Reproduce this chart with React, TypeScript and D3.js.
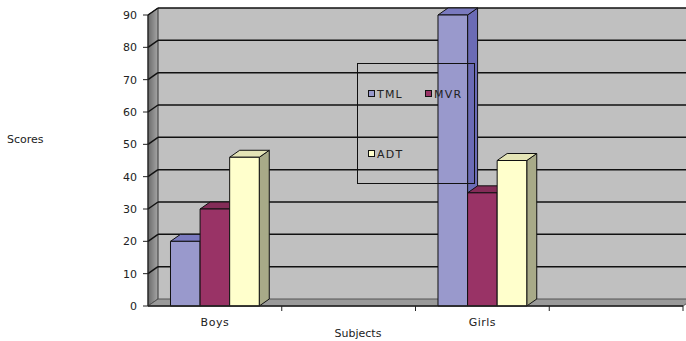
import React from "react";
import * as d3 from "d3";

const categories = ["Boys", "", "Girls", ""];
const seriesNames = ["TML", "MVR", "ADT"];
const TML = [20, null, 90, null];
const MVR = [30, null, 35, null];
const ADT = [46, null, 45, null];
const yTicks = [0, 10, 20, 30, 40, 50, 60, 70, 80, 90];

const seriesValues = [TML, MVR, ADT];
const colors = [
  { front: "#9999CC", side: "#6B6BB5", top: "#7A7ABF" },
  { front: "#993366", side: "#7A2952", top: "#842C58" },
  { front: "#FFFFCC", side: "#A8AA88", top: "#E4E4B6" },
];

const W = 686;
const H = 341;
const DX = 10;
const DY = -7;
const FONT = "DejaVu Sans, sans-serif";

export default function App() {
  const y = d3.scaleLinear().domain([0, 90]).range([306, 15]);
  const x = d3.scaleBand<string>().domain(categories.map((c, i) => i + "")).range([148, 683]).padding(0);
  const inner = d3.scaleBand<string>().domain(seriesNames).range([0, x.bandwidth()]).paddingInner(0).paddingOuter(0.76);
  const x0 = 148;
  const x1 = 683;
  const y0 = y(0);
  const yTop = y(90);

  const poly = (pts: number[][]) => pts.map((p) => p.join(",")).join(" ");

  return (
    <svg width={W} height={H} style={{ position: "absolute", left: 0, top: 0, display: "block" }}>
      <defs>
        <linearGradient id="lw" x1="0" x2="1" y1="0" y2="0">
          <stop offset="0" stopColor="#6a6a6a" />
          <stop offset="1" stopColor="#a6a6a6" />
        </linearGradient>
      </defs>
      <rect x={0} y={0} width={W} height={H} fill="#fff" />
      {/* back wall */}
      <rect x={x0 + DX} y={yTop + DY} width={W - x0 - DX + 20} height={y0 - yTop} fill="#C0C0C0" />
      {/* left wall */}
      <polygon
        points={poly([
          [x0, y0],
          [x0, yTop],
          [x0 + DX, yTop + DY],
          [x0 + DX, y0 + DY],
        ])}
        fill="url(#lw)"
        stroke="#333"
        strokeWidth={1}
      />
      {/* floor */}
      <polygon
        points={poly([
          [x0, y0],
          [x1, y0],
          [x1 + DX, y0 + DY],
          [x0 + DX, y0 + DY],
        ])}
        fill="#9a9a9a"
        stroke="#555"
        strokeWidth={1}
      />
      {/* gridlines */}
      {yTicks.map((t) => (
        <g key={"g" + t}>
          {t > 0 && (
            <>
              <line x1={x0} y1={y(t)} x2={x0 + DX} y2={y(t) + DY} stroke="#111" strokeWidth={1.5} />
              <line x1={x0 + DX} y1={y(t) + DY} x2={W + 5} y2={y(t) + DY} stroke="#111" strokeWidth={1.5} />
            </>
          )}
        </g>
      ))}
      {/* bars */}
      {categories.map((c, ci) =>
        seriesNames.map((s, si) => {
          const v = seriesValues[si][ci];
          if (v == null) return null;
          const bx = (x(ci + "") as number) + (inner(s) as number);
          const bw = inner.bandwidth();
          const by = y(v);
          const col = colors[si];
          return (
            <g key={c + s} stroke="#111" strokeWidth={1} strokeLinejoin="round">
              <polygon
                points={poly([
                  [bx + bw, y0],
                  [bx + bw, by],
                  [bx + bw + DX, by + DY],
                  [bx + bw + DX, y0 + DY],
                ])}
                fill={col.side}
              />
              <polygon
                points={poly([
                  [bx, by],
                  [bx + DX, by + DY],
                  [bx + bw + DX, by + DY],
                  [bx + bw, by],
                ])}
                fill={col.top}
              />
              <rect x={bx} y={by} width={bw} height={y0 - by} fill={col.front} />
            </g>
          );
        })
      )}
      {/* axes */}
      <line x1={x0} y1={y0} x2={x1} y2={y0} stroke="#222" strokeWidth={1.5} />
      <line x1={x0} y1={y0} x2={x0} y2={yTop} stroke="#222" strokeWidth={1} />
      {yTicks.map((t) => (
        <g key={"t" + t}>
          <line x1={x0 - 5} y1={y(t)} x2={x0} y2={y(t)} stroke="#222" strokeWidth={1} />
          <text x={137} y={y(t) + 4} fontFamily={FONT} fontSize={11} fill="#222" textAnchor="end">
            {t}
          </text>
        </g>
      ))}
      {categories.map((c, ci) => (
        <g key={"c" + ci}>
          <line
            x1={(x(ci + "") as number) + x.bandwidth()}
            y1={y0}
            x2={(x(ci + "") as number) + x.bandwidth()}
            y2={y0 + 5}
            stroke="#222"
            strokeWidth={1}
          />
          {c && (
            <text
              x={(x(ci + "") as number) + x.bandwidth() / 2}
              y={326}
              fontFamily={FONT}
              fontSize={11}
              fill="#222"
              textAnchor="middle"
              letterSpacing={0.5}
            >
              {c}
            </text>
          )}
        </g>
      ))}
      <text x={358} y={337} fontFamily={FONT} fontSize={11} fill="#222" textAnchor="middle">
        Subjects
      </text>
      <text x={7} y={143} fontFamily={FONT} fontSize={11} fill="#222">
        Scores
      </text>
      {/* legend */}
      <g>
        <rect x={357.5} y={63.5} width={117} height={120} fill="none" stroke="#111" strokeWidth={1} />
        {[
          { i: 0, lx: 368, ly: 90 },
          { i: 1, lx: 425, ly: 90 },
          { i: 2, lx: 368, ly: 150 },
        ].map(({ i, lx, ly }) => (
          <g key={"l" + i}>
            <rect x={lx + 0.5} y={ly + 0.5} width={6} height={6} fill={colors[i].front} stroke="#111" strokeWidth={1} />
            <text x={lx + 9} y={ly + 8} fontFamily={FONT} fontSize={11} fill="#222" letterSpacing={1.2}>
              {seriesNames[i]}
            </text>
          </g>
        ))}
      </g>
    </svg>
  );
}
